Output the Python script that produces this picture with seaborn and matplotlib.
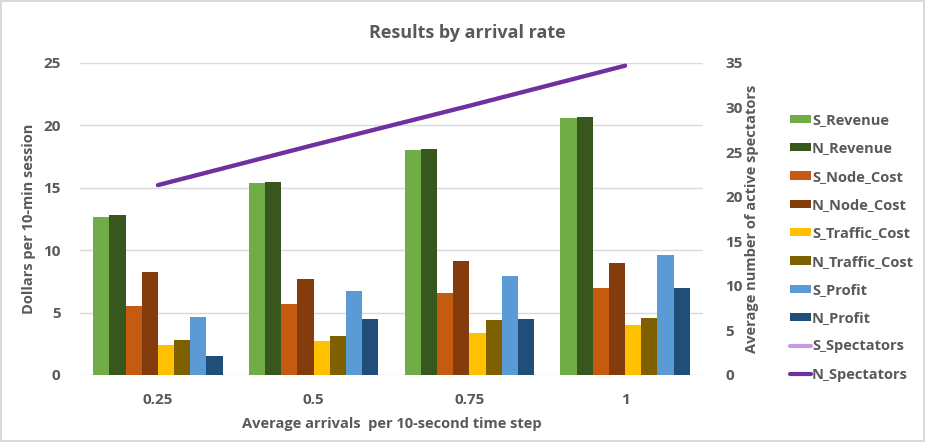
import numpy as np
import pandas as pd
import matplotlib
matplotlib.use("Agg")
import matplotlib.pyplot as plt
import seaborn as sns
from matplotlib.patches import Patch
from matplotlib.lines import Line2D

# Data
rates = ["0.25", "0.5", "0.75", "1"]
s_revenue = [12.7, 15.4, 18.0, 20.6]
n_revenue = [12.8, 15.45, 18.1, 20.65]
s_node_cost = [5.5, 5.7, 6.6, 6.95]
n_node_cost = [8.25, 7.7, 9.1, 9.0]
s_traffic_cost = [2.4, 2.75, 3.4, 4.0]
n_traffic_cost = [2.8, 3.15, 4.4, 4.6]
s_profit = [4.65, 6.75, 7.95, 9.6]
n_profit = [1.55, 4.5, 4.5, 6.95]
s_spectators = [21.3, 25.8, 30.2, 34.7]
n_spectators = [21.3, 25.8, 30.2, 34.7]

series = {
    "S_Revenue": s_revenue,
    "N_Revenue": n_revenue,
    "S_Node_Cost": s_node_cost,
    "N_Node_Cost": n_node_cost,
    "S_Traffic_Cost": s_traffic_cost,
    "N_Traffic_Cost": n_traffic_cost,
    "S_Profit": s_profit,
    "N_Profit": n_profit,
}
colors = ["#70AD47", "#38571F", "#C55A11", "#843C0C",
          "#FFC000", "#7F6000", "#5B9BD5", "#1F4E79"]
s_spec_color = "#C49BE0"
n_spec_color = "#7030A0"

rows = []
for name, vals in series.items():
    for r, v in zip(rates, vals):
        rows.append({"rate": r, "series": name, "value": v})
df = pd.DataFrame(rows)

sns.set_theme(style="white")
plt.rcParams["font.family"] = ["Open Sans", "DejaVu Sans"]
txt = "#595959"
fs = 10.5

fig = plt.figure(figsize=(9.25, 4.42), dpi=100)
fig.patch.set_edgecolor("#D9D9D9")
fig.patch.set_linewidth(1.5)
ax = fig.add_axes([80 / 925, 1 - 375 / 442, 623 / 925, 312 / 442])

sns.barplot(data=df, x="rate", y="value", hue="series", order=rates,
            palette=colors, width=0.83, saturation=1, legend=False,
            edgecolor="none", ax=ax)
ax.set_ylim(0, 25)
ax.set_xlim(-0.5, 3.5)
ax.set_yticks([0, 5, 10, 15, 20, 25])
ax.grid(axis="y", color="#D9D9D9", linewidth=1)
ax.set_axisbelow(True)
for s in ax.spines.values():
    s.set_visible(False)
ax.tick_params(axis="both", length=0, labelsize=11, labelcolor=txt)
ax.tick_params(axis="x", pad=13)
ax.tick_params(axis="y", pad=14)
for lbl in ax.get_xticklabels() + ax.get_yticklabels():
    lbl.set_fontweight("bold")
ax.set_xlabel("Average arrivals  per 10-second time step", fontsize=fs,
              fontweight="bold", color=txt, labelpad=7)
ax.set_ylabel("Dollars per 10-min session", fontsize=fs,
              fontweight="bold", color=txt, labelpad=5)

ax2 = ax.twinx()
xpos = np.arange(len(rates))
sns.lineplot(x=xpos, y=s_spectators, color=s_spec_color, linewidth=3, ax=ax2)
sns.lineplot(x=xpos, y=n_spectators, color=n_spec_color, linewidth=3, ax=ax2)
ax2.set_ylim(0, 35)
ax2.set_yticks([0, 5, 10, 15, 20, 25, 30, 35])
for s in ax2.spines.values():
    s.set_visible(False)
ax2.tick_params(axis="y", length=0, labelsize=11, labelcolor=txt, pad=16)
for lbl in ax2.get_yticklabels():
    lbl.set_fontweight("bold")
ax2.set_ylabel("Average number of active spectators", fontsize=fs,
               fontweight="bold", color=txt, labelpad=2)

fig.suptitle("Results by arrival rate", fontsize=13, fontweight="bold",
             color=txt, x=0.505, y=1 - 33 / 442, va="center")

handles = [Patch(facecolor=c, edgecolor="none") for c in colors]
handles += [Line2D([], [], color=s_spec_color, linewidth=3),
            Line2D([], [], color=n_spec_color, linewidth=3)]
labels = list(series.keys()) + ["S_Spectators", "N_Spectators"]
leg = fig.legend(handles, labels, loc="upper left",
                 bbox_to_anchor=(777 / 925, 1 - 100 / 442), frameon=False,
                 fontsize=fs, handlelength=1.4, handleheight=0.5,
                 handletextpad=0.1, labelspacing=0.98)
for t in leg.get_texts():
    t.set_color(txt)
    t.set_fontweight("bold")

fig.savefig("out.png", dpi=100)
